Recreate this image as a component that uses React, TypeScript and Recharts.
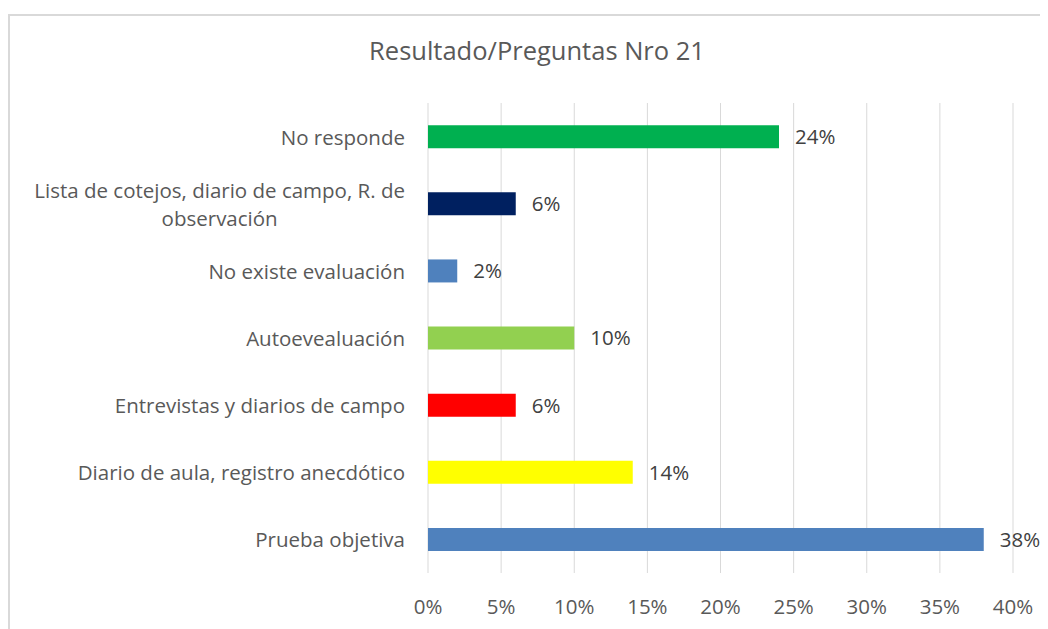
import React from 'react';
import { BarChart, Bar, XAxis, YAxis, CartesianGrid, LabelList, Cell } from 'recharts';

const categories = [
    'No responde',
    'Lista de cotejos, diario de campo, R. de observación',
    'No existe evaluación',
    'Autoevealuación',
    'Entrevistas y diarios de campo',
    'Diario de aula, registro anecdótico',
    'Prueba objetiva',
];
const values = [0.24, 0.06, 0.02, 0.1, 0.06, 0.14, 0.38];
const colors = ['#00B050', '#002060', '#4F81BD', '#92D050', '#FF0000', '#FFFF00', '#4F81BD'];
const xTicks = [0, 0.05, 0.1, 0.15, 0.2, 0.25, 0.3, 0.35, 0.4];

const FONT = '"Open Sans", sans-serif';
const SIZE = 20.5;

const data = categories.map((name, i) => ({ name, value: values[i] }));

const pct = (v: number) => `${Math.round(v * 100)}%`;

let ctx: CanvasRenderingContext2D | null = null;
const measure = (s: string, size: number) => {
    if (!ctx) ctx = document.createElement('canvas').getContext('2d');
    if (!ctx) return s.length * size * 0.5;
    ctx.font = `${size}px "Open Sans"`;
    return ctx.measureText(s).width;
};

// wrap long labels into lines centered on each other, right aligned as a block
const CategoryTick = (props: any) => {
    const { x, y, payload } = props;
    const label: string = payload.value;
    const maxW = 400;
    const words = label.split(' ');
    const lines: string[] = [];
    let cur = '';
    words.forEach(w => {
        const next = cur ? cur + ' ' + w : w;
        if (measure(next, SIZE) > maxW && cur) {
            lines.push(cur);
            cur = w;
        } else cur = next;
    });
    lines.push(cur);
    const blockW = Math.max(...lines.map(l => measure(l, SIZE)));
    const cx = x - blockW / 2;
    const lh = 28;
    const y0 = y - ((lines.length - 1) * lh) / 2;
    return (
        <text x={cx} y={y0} textAnchor="middle" fill="#595959" fontSize={SIZE} fontFamily={FONT} dominantBaseline="central">
            {lines.map((l, i) => (
                <tspan key={i} x={cx} dy={i === 0 ? 0 : lh}>{l}</tspan>
            ))}
        </text>
    );
};

export default function App() {
    return (
        <div style={{ position: 'relative', width: 1040, height: 621, overflow: 'hidden', background: '#fff' }}>
            <div style={{ position: 'absolute', left: 0, top: 6, width: 1100, height: 700, borderLeft: '2px solid #d9d9d9', borderTop: '2px solid #d9d9d9' }} />
            <div style={{ position: 'absolute', left: 0, top: 25, width: 1058, textAlign: 'center', fontFamily: FONT, fontSize: 25.5, color: '#595959' }}>
                Resultado/Preguntas Nro 21
            </div>
            <div style={{ position: 'absolute', left: 0, top: 0 }}>
                <BarChart
                    width={1040}
                    height={621}
                    data={data}
                    layout="vertical"
                    margin={{ top: 95, right: 35, left: 0, bottom: 16 }}
                    barCategoryGap="33%"
                >
                    <CartesianGrid horizontal={false} stroke="#d9d9d9" strokeWidth={1} />
                    <XAxis
                        type="number"
                        domain={[0, 0.4]}
                        ticks={xTicks}
                        tickFormatter={pct}
                        axisLine={false}
                        tickLine={false}
                        height={40}
                        tickMargin={20}
                        tick={{ fontSize: SIZE, fill: '#595959', fontFamily: FONT }}
                        interval={0}
                    />
                    <YAxis
                        type="category"
                        dataKey="name"
                        width={420}
                        axisLine={false}
                        tickLine={false}
                        tickMargin={17}
                        tick={<CategoryTick />}
                        interval={0}
                    />
                    <Bar dataKey="value" isAnimationActive={false}>
                        {data.map((d, i) => (
                            <Cell key={d.name} fill={colors[i]} />
                        ))}
                        <LabelList dataKey="value" position="right" offset={16} formatter={(v: any) => pct(v)} fill="#404040" fontSize={SIZE} fontFamily={FONT} />
                    </Bar>
                </BarChart>
            </div>
        </div>
    );
}
